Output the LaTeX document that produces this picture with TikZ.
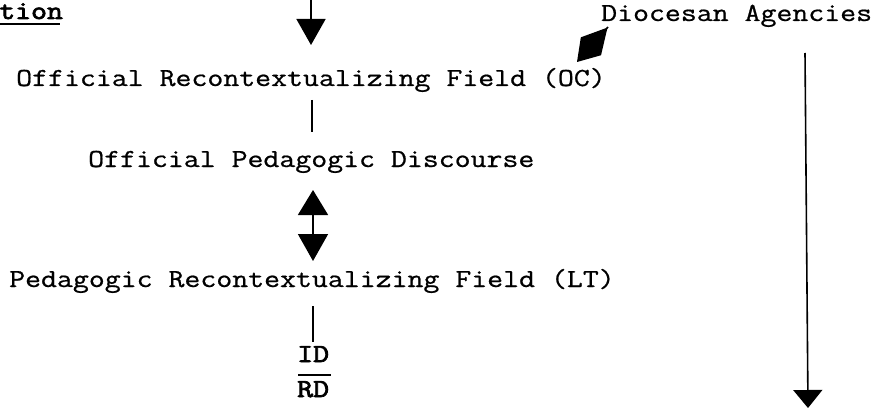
\documentclass[tikz,border=0pt]{standalone}
\usepackage{graphicx}
\usepackage{fontspec}
\newfontfamily\regmono{Latin Modern Mono}[FakeBold=0.7]
\newfontfamily\boldmono{Latin Modern Mono}[FakeBold=2.6]
\usetikzlibrary{arrows.meta}
\newcommand{\dtxt}[1]{\scalebox{1.19}[1]{\fontsize{26}{30}\selectfont\regmono #1}}
\newcommand{\dbtxt}[1]{\scalebox{1.19}[1]{\fontsize{26}{30}\selectfont\boldmono #1}}
\tikzset{
  lbl/.style={inner sep=0pt, anchor=base west},
  conn/.style={line width=1.6pt},
  uline/.style={line width=1.6pt},
}
\begin{document}
\begin{tikzpicture}[x=1pt,y=-1pt]
\useasboundingbox (0,0) rectangle (885,409);
% texts
\node[lbl] (tion) at (-1,19) {\dbtxt{tion}};
\node[lbl] (dio) at (601,21) {\dtxt{Diocesan Agencies}};
\node[lbl] (orf) at (16,86) {\dtxt{Official Recontextualizing Field (OC)}};
\node[lbl] (opd) at (88,167) {\dtxt{Official Pedagogic Discourse}};
\node[lbl] (prf) at (9,287) {\dtxt{Pedagogic Recontextualizing Field (LT)}};
\node[lbl] (id) at (297,362) {\dbtxt{ID}};
\node[lbl] (rd) at (297,397) {\dbtxt{RD}};
% underlines
\draw[uline] (0,24) -- (60,24);
\draw[uline] (298,375) -- (331,375);
% coordinates
\coordinate (top) at (311,0);
\coordinate (toptip) at (311,45);
\coordinate (dioback) at (608,27);
\coordinate (octip) at (577,62);
\coordinate (orfb) at (312,100);
\coordinate (opdt) at (312,132);
\coordinate (opdb) at (313,190);
\coordinate (prft) at (313,261);
\coordinate (prfb) at (313,306);
\coordinate (idt) at (313,342);
\coordinate (rtop) at (805,53);
\coordinate (rbot) at (808,408);
% connectors
\draw[conn,-{Triangle[length=26pt,width=29pt]}] (top) -- (toptip);
\draw[conn,-{Kite[length=46pt,width=27pt,inset=25pt]}] (dioback) -- (octip);
\draw[conn] (orfb) -- (opdt);
\draw[conn,{Triangle[length=25pt,width=30pt]}-{Triangle[length=27pt,width=30pt]}] (opdb) -- (prft);
\draw[conn] (prfb) -- (idt);
\draw[conn,-{Triangle[length=18pt,width=29pt]}] (rtop) -- (rbot);
\end{tikzpicture}
\end{document}
